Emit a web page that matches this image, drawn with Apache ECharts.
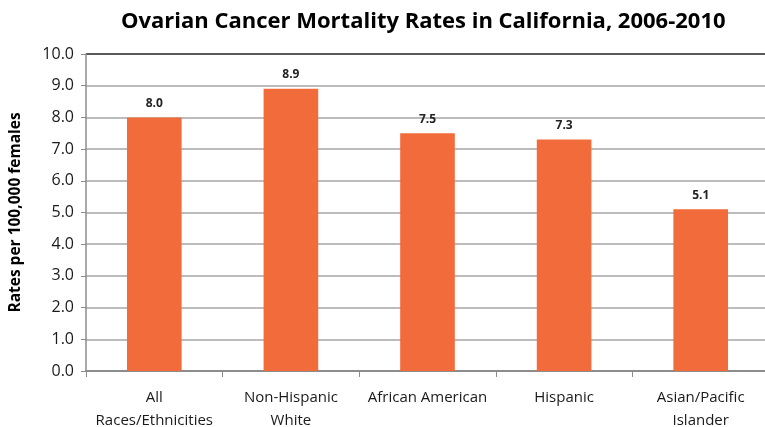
<!DOCTYPE html>
<html>
<head>
<meta charset="utf-8">
<script src="https://cdn.jsdelivr.net/npm/echarts@6/dist/echarts.min.js"></script>
<style>
  html, body { margin: 0; padding: 0; background: #fff; }
  #chart { width: 765px; height: 427px; }
</style>
</head>
<body>
<div id="chart"></div>
<script>
const categories = ['All\nRaces/Ethnicities', 'Non-Hispanic\nWhite', 'African American', 'Hispanic', 'Asian/Pacific\nIslander']
const rates = [8.0, 8.9, 7.5, 7.3, 5.1]

const FONT = '"Open Sans", "Noto Sans", sans-serif'

const chart = echarts.init(document.getElementById('chart'))

// top gridline is drawn darker than the others
const gridColors = ['#a6a6a6', '#a6a6a6', '#a6a6a6', '#a6a6a6', '#a6a6a6',
  '#a6a6a6', '#a6a6a6', '#a6a6a6', '#a6a6a6', '#a6a6a6', '#222222']

chart.setOption({
  animation: false,
  title: {
    text: 'Ovarian Cancer Mortality Rates in California, 2006-2010',
    left: 116,
    top: 6,
    textStyle: {
      fontFamily: FONT,
      fontSize: 22,
      fontWeight: 'bold',
      color: '#000'
    }
  },
  grid: {
    left: 86,
    right: -4,
    top: 54,
    bottom: 56,
    outerBoundsMode: 'none',
    containLabel: false
  },
  xAxis: {
    type: 'category',
    data: categories,
    axisLine: { lineStyle: { color: '#8c8c8c', width: 2 } },
    axisTick: { show: true, length: 6, alignWithLabel: false, lineStyle: { color: '#8c8c8c', width: 1 } },
    axisLabel: {
      fontFamily: FONT,
      fontSize: 15,
      color: '#1a1a1a',
      lineHeight: 23,
      margin: 15,
      interval: 0
    }
  },
  yAxis: {
    type: 'value',
    min: 0,
    max: 10,
    interval: 1,
    name: 'Rates per 100,000 females',
    nameLocation: 'middle',
    nameGap: 62,
    nameTextStyle: {
      fontFamily: FONT,
      fontSize: 15.5,
      fontWeight: 'bold',
      color: '#000'
    },
    axisLine: { show: true, lineStyle: { color: '#8c8c8c', width: 1.5 } },
    axisTick: { show: true, length: 5, lineStyle: { color: '#8c8c8c' } },
    axisLabel: {
      fontFamily: FONT,
      fontSize: 16,
      color: '#1a1a1a',
      margin: 12,
      formatter: v => v.toFixed(1)
    },
    splitLine: { lineStyle: { color: gridColors, width: 1.5 } }
  },
  series: [{
    type: 'bar',
    data: rates,
    barWidth: '40%',
    itemStyle: { color: '#f26b3a' },
    label: {
      show: true,
      position: 'top',
      distance: 8,
      fontFamily: FONT,
      fontSize: 12,
      fontWeight: 'bold',
      color: '#222',
      formatter: p => p.value.toFixed(1)
    }
  }]
})
</script>
</body>
</html>
